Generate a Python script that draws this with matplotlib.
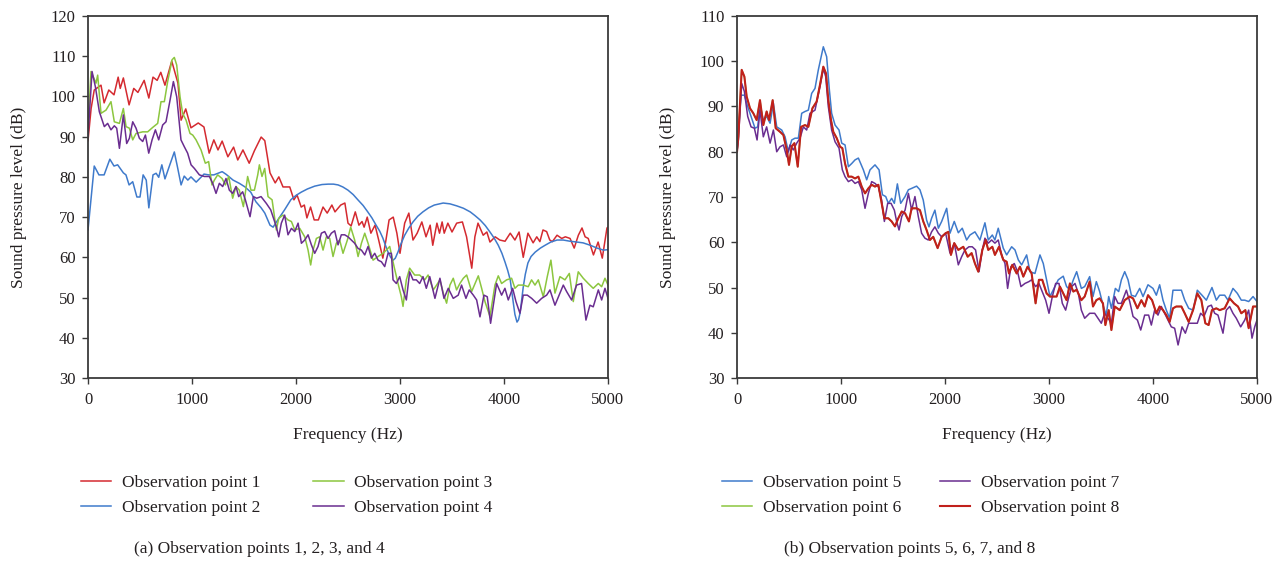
import numpy as np
import matplotlib
matplotlib.use("Agg")
import matplotlib.pyplot as plt

plt.rcParams['font.family'] = ['Liberation Serif', 'DejaVu Serif']

# ---------------- data (frequency Hz, SPL dB) ----------------
obs1 = [(0, 89), (30, 97), (60, 101.6), (125, 102.8), (155, 98.4), (200, 101.6), (250, 100.4), (290, 104.8), (310, 102), (340, 104.6),
        (395, 97.9), (440, 102), (480, 101), (540, 104), (585, 99.6), (625, 104.8), (665, 104), (700, 106), (740, 102.8), (805, 108.8),
        (865, 103.3), (895, 94.1), (940, 96.9), (990, 92.2), (1060, 93.4), (1115, 92.4), (1165, 85.9), (1210, 89.2), (1250, 86.7), (1290, 88.9),
        (1345, 85), (1400, 87.4), (1440, 84.2), (1490, 86.7), (1550, 83.4), (1600, 86.5), (1665, 89.9), (1700, 89), (1750, 81), (1800, 78.5),
        (1835, 80), (1875, 77.5), (1940, 77.5), (1980, 74.3), (2010, 75.5), (2050, 72.5), (2080, 73), (2105, 69.8), (2140, 72.5), (2175, 69.3),
        (2215, 69.3), (2260, 72.5), (2300, 71), (2345, 73), (2375, 71.3), (2430, 73), (2470, 73.5), (2500, 68.5), (2530, 67.8), (2570, 71.3),
        (2605, 68), (2635, 68.9), (2655, 67.5), (2685, 70), (2720, 66), (2760, 68), (2795, 64.3), (2835, 59.8), (2865, 64.3), (2895, 69.3),
        (2935, 70), (2970, 66), (3000, 61), (3045, 68.5), (3085, 71), (3125, 64.3), (3165, 66), (3210, 68.8), (3250, 65.1), (3290, 68),
        (3315, 63), (3355, 68.5), (3380, 66), (3405, 68.8), (3425, 66), (3460, 68.5), (3500, 66.3), (3545, 68.5), (3600, 68.8), (3640, 65.1),
        (3690, 57.3), (3720, 65.1), (3750, 68.5), (3800, 65.5), (3835, 66.3), (3865, 63.8), (3915, 65.1), (3960, 64.3), (4010, 64), (4060, 66),
        (4105, 64.3), (4145, 66.3), (4185, 60), (4230, 66), (4280, 63.6), (4315, 65.1), (4345, 63.9), (4375, 66.8), (4410, 66.4), (4440, 64.3),
        (4465, 63.9), (4510, 65.5), (4555, 64.7), (4590, 65.1), (4635, 64.7), (4675, 62.3), (4715, 65.5), (4750, 67.3), (4780, 65.1), (4810, 64.7),
        (4860, 60.6), (4905, 63.8), (4945, 59.8), (4990, 67.3), (5000, 67.5)]

obs2 = [(0, 66.8), (60, 82.7), (105, 80.5), (155, 80.5), (210, 84.4), (250, 82.7), (285, 83), (340, 81), (365, 80.5), (395, 78),
        (430, 78.8), (470, 75), (500, 75), (530, 80.5), (560, 79.2), (585, 72.3), (625, 80.5), (655, 80.9), (680, 79.9), (710, 83),
        (740, 79.5), (780, 82.5), (830, 86.2), (860, 82.5), (895, 78), (925, 80.2), (960, 79.2), (990, 80), (1040, 78.7), (1090, 80),
        (1115, 80.7), (1160, 80.5), (1210, 80.5), (1260, 81), (1290, 81.3), (1330, 80.6), (1395, 79.2), (1455, 78.4), (1510, 77.5), (1565, 76.2),
        (1615, 73.8), (1665, 72.3), (1700, 71), (1750, 68), (1780, 67.5), (1825, 69.3), (1890, 71.8), (1950, 74.3), (2000, 75.4), (2050, 76.2),
        (2110, 77.0), (2180, 77.7), (2250, 78.1), (2310, 78.2), (2360, 78.2), (2405, 78), (2450, 77.5), (2500, 76.7), (2550, 75.6), (2595, 74.3),
        (2645, 72.9), (2690, 71.3), (2730, 69.8), (2770, 68), (2805, 66.5), (2835, 64.8), (2860, 63.0), (2885, 61.3), (2910, 60.0), (2935, 59.3),
        (2955, 59.8), (2980, 61.3), (3010, 63.4), (3045, 65.5), (3085, 67.3), (3125, 68.8), (3170, 70.2), (3220, 71.3), (3275, 72.3), (3330, 73),
        (3415, 73.5), (3480, 73.3), (3545, 72.8), (3610, 72.2), (3675, 71.3), (3720, 70.4), (3770, 69.3), (3820, 67.9), (3865, 66.3), (3905, 64.8),
        (3945, 63), (3980, 61.0), (4010, 58.8), (4035, 56.8), (4060, 54.4), (4075, 51.5), (4090, 48.6), (4105, 45.8), (4125, 43.9), (4140, 44.5),
        (4155, 46.2), (4170, 49.4), (4185, 52.6), (4205, 55.8), (4230, 58.6), (4260, 60.2), (4300, 61.3), (4350, 62.3), (4395, 63), (4450, 63.8),
        (4510, 64.3), (4570, 64.3), (4635, 64), (4700, 63.8), (4760, 63.6), (4830, 63.0), (4895, 62.3), (4955, 61.8), (5000, 61.9)]

obs3 = [(0, 92), (29, 106.2), (77, 103.3), (93, 105.3), (125, 95.8), (173, 96.6), (221, 98.7), (253, 93.7), (302, 93.3), (340, 97.0),
        (366, 92.5), (398, 92.1), (430, 89.2), (462, 90.8), (526, 91.2), (574, 91.2), (622, 92.3), (670, 93.3), (702, 98.7), (734, 98.7),
        (766, 103.7), (808, 109.1), (830, 109.7), (853, 107.8), (885, 99.9), (910, 95.8), (943, 94.1), (981, 90.8), (1007, 90.4), (1039, 89.2),
        (1087, 86.7), (1128, 83.4), (1160, 83.8), (1192, 78.0), (1215, 79.2), (1247, 80.5), (1289, 79.6), (1321, 78.0), (1353, 80.1), (1391, 74.7),
        (1423, 77.6), (1455, 76.7), (1494, 72.6), (1535, 80.1), (1567, 76.7), (1600, 76.7), (1632, 80.5), (1648, 83.0), (1673, 80.1), (1699, 82.1),
        (1731, 75.1), (1770, 74.3), (1811, 66.8), (1834, 69.7), (1875, 70.5), (1923, 69.3), (1956, 68.9), (1988, 66.8), (2036, 67.2), (2084, 65.1),
        (2116, 61.8), (2141, 58.1), (2164, 61.8), (2196, 64.7), (2228, 65.1), (2260, 61.8), (2292, 65.1), (2324, 64.7), (2356, 60.2), (2388, 63.5),
        (2420, 64.3), (2452, 61.0), (2494, 64.3), (2526, 67.5), (2564, 64.3), (2597, 60.2), (2629, 63.5), (2661, 66.0), (2693, 63.5), (2741, 59.3),
        (2789, 60.2), (2837, 61.0), (2869, 61.8), (2901, 62.7), (2943, 57.7), (2981, 53.5), (3013, 50.2), (3029, 47.8), (3061, 54.4), (3093, 57.3),
        (3141, 55.6), (3189, 55.6), (3238, 54.4), (3270, 55.6), (3320, 51.9), (3352, 53.1), (3384, 54.4), (3416, 51.1), (3448, 48.6), (3480, 53.1),
        (3512, 54.8), (3544, 51.9), (3576, 53.5), (3609, 54.8), (3641, 55.6), (3689, 51.5), (3753, 55.4), (3785, 52.3), (3817, 49.0), (3865, 45.3),
        (3913, 53.1), (3945, 55.4), (3977, 53.5), (4025, 54.4), (4073, 54.8), (4105, 52.3), (4137, 53.1), (4185, 53.1), (4233, 52.7), (4265, 54.4),
        (4298, 53.1), (4330, 54.4), (4378, 50.2), (4416, 55.2), (4451, 59.3), (4490, 51.1), (4538, 55.2), (4586, 54.4), (4628, 56.0), (4666, 49.0),
        (4714, 56.4), (4762, 54.8), (4810, 53.5), (4858, 52.3), (4907, 53.5), (4939, 52.7), (4971, 54.8), (5000, 53.1)]

obs4 = [(0, 90), (39, 106.2), (71, 102.4), (109, 96.2), (157, 92.5), (189, 93.3), (221, 91.7), (253, 92.7), (276, 92.1), (302, 87.1),
        (340, 95.4), (372, 88.3), (398, 89.6), (430, 93.7), (462, 92.1), (494, 89.6), (526, 88.8), (552, 90.4), (584, 85.9), (616, 89.2),
        (648, 91.7), (680, 89.2), (718, 92.9), (750, 93.7), (789, 99.1), (821, 103.7), (853, 99.9), (878, 93.3), (894, 89.2), (926, 87.5),
        (958, 85.9), (991, 83.0), (1023, 82.1), (1071, 80.5), (1119, 80.1), (1167, 80.1), (1199, 78.4), (1231, 75.9), (1263, 78.4), (1295, 77.6),
        (1327, 79.6), (1359, 76.7), (1391, 75.9), (1423, 77.6), (1449, 75.1), (1487, 76.3), (1513, 74.3), (1558, 70.1), (1590, 75.1), (1622, 74.7),
        (1664, 75.1), (1715, 73.4), (1757, 71.8), (1789, 69.3), (1811, 67.6), (1834, 65.1), (1859, 68.5), (1891, 70.5), (1923, 65.6), (1956, 67.2),
        (1988, 66.4), (2020, 68.5), (2052, 63.5), (2084, 64.3), (2116, 65.6), (2148, 63.1), (2180, 61.0), (2212, 62.7), (2244, 66.0), (2276, 66.4),
        (2308, 64.7), (2340, 66.0), (2372, 66.6), (2404, 63.1), (2436, 65.6), (2468, 65.6), (2500, 65.1), (2532, 64.3), (2564, 63.5), (2597, 62.2),
        (2629, 61.8), (2661, 60.6), (2693, 62.7), (2725, 59.8), (2757, 61.0), (2789, 59.3), (2821, 58.9), (2853, 57.7), (2885, 61.0), (2917, 61.0),
        (2933, 54.4), (2965, 53.5), (2997, 55.2), (3029, 51.9), (3061, 49.4), (3093, 56.4), (3125, 54.4), (3157, 54.4), (3189, 53.5), (3221, 55.2),
        (3253, 52.3), (3286, 55.2), (3336, 49.8), (3384, 54.8), (3423, 49.8), (3464, 52.3), (3512, 49.8), (3560, 50.6), (3592, 53.1), (3634, 49.8),
        (3666, 51.9), (3705, 50.6), (3737, 49.4), (3769, 45.2), (3807, 50.6), (3839, 50.2), (3871, 43.6), (3929, 53.5), (3977, 50.6), (4009, 52.3),
        (4041, 49.4), (4083, 52.3), (4115, 49.0), (4153, 46.1), (4185, 50.6), (4224, 50.6), (4266, 49.8), (4314, 48.6), (4362, 49.8), (4410, 50.6),
        (4442, 51.9), (4490, 48.1), (4538, 51.1), (4570, 53.1), (4602, 51.5), (4650, 49.4), (4698, 53.1), (4746, 53.5), (4788, 44.4), (4826, 48.1),
        (4858, 47.7), (4907, 51.9), (4939, 49.4), (4971, 52.3), (5000, 49.8)]

obs5 = [(0, 80), (19, 86.3), (39, 92.5), (71, 92.5), (103, 90.0), (141, 87.4), (173, 85.2), (199, 85.5), (221, 90.3), (253, 87.0),
        (285, 87.8), (318, 86.3), (350, 90.7), (382, 85.5), (430, 84.8), (462, 83.3), (494, 80.0), (526, 82.6), (558, 83.0), (590, 83.0),
        (622, 88.5), (654, 88.9), (686, 89.2), (718, 92.9), (750, 94.0), (782, 98.1), (830, 103.2), (862, 101.0), (888, 93.7), (910, 88.5),
        (943, 85.9), (981, 84.8), (1007, 81.9), (1039, 81.5), (1071, 76.7), (1103, 77.4), (1135, 78.2), (1167, 78.6), (1215, 76.0), (1247, 73.8),
        (1279, 76.0), (1327, 77.1), (1366, 76.0), (1398, 70.5), (1430, 70.1), (1455, 68.6), (1487, 69.7), (1513, 68.6), (1542, 72.9), (1574, 68.6),
        (1616, 70.1), (1648, 71.6), (1679, 71.9), (1727, 72.4), (1759, 71.6), (1791, 69.3), (1823, 64.9), (1846, 63.4), (1871, 65.3), (1903, 67.1),
        (1936, 63.1), (1968, 64.6), (2016, 67.5), (2048, 62.0), (2089, 64.6), (2128, 62.1), (2166, 63.1), (2208, 60.5), (2240, 61.6), (2288, 62.3),
        (2336, 60.5), (2384, 64.3), (2416, 60.5), (2455, 61.6), (2480, 60.5), (2512, 63.1), (2560, 58.7), (2593, 57.2), (2641, 59.0), (2673, 58.3),
        (2705, 56.1), (2737, 55.0), (2785, 57.2), (2817, 53.5), (2865, 53.1), (2913, 57.2), (2945, 55.3), (2977, 51.7), (3009, 48.0), (3041, 49.5),
        (3089, 51.7), (3137, 52.5), (3169, 50.2), (3201, 49.5), (3234, 51.7), (3266, 53.5), (3311, 49.8), (3343, 50.2), (3391, 52.4), (3423, 48.0),
        (3455, 51.3), (3487, 49.1), (3519, 46.1), (3551, 43.9), (3574, 48.0), (3600, 45.4), (3638, 49.8), (3670, 49.1), (3696, 51.7), (3728, 53.5),
        (3760, 51.7), (3792, 48.3), (3830, 48.0), (3872, 49.8), (3904, 48.0), (3952, 50.6), (4000, 49.8), (4032, 48.3), (4064, 50.6), (4096, 47.2),
        (4128, 45.0), (4160, 43.2), (4192, 49.4), (4224, 49.4), (4273, 49.4), (4305, 47.2), (4343, 45.4), (4385, 45.0), (4426, 49.4), (4471, 48.3),
        (4513, 47.2), (4567, 50.0), (4609, 47.2), (4641, 48.3), (4689, 48.3), (4721, 47.2), (4769, 49.8), (4811, 48.7), (4849, 47.2), (4882, 47.2),
        (4920, 46.9), (4962, 48.0), (5000, 46.9)]

obs7 = [(0, 80), (13, 82.6), (45, 95.1), (71, 93.3), (103, 87.8), (135, 85.5), (167, 85.2), (193, 82.6), (221, 89.2), (253, 83.3),
        (285, 85.5), (318, 81.9), (350, 84.8), (382, 80.0), (414, 81.1), (446, 81.5), (478, 78.9), (510, 81.5), (542, 80.4), (574, 81.9),
        (606, 83.0), (638, 85.5), (670, 84.8), (702, 88.5), (750, 89.2), (798, 94.4), (830, 98.4), (853, 96.6), (878, 90.0), (910, 84.8),
        (943, 82.2), (981, 80.8), (1013, 76.0), (1039, 74.5), (1071, 73.4), (1103, 73.8), (1135, 73.0), (1167, 73.4), (1199, 71.6), (1231, 67.5),
        (1263, 70.8), (1295, 73.4), (1327, 73.0), (1359, 72.3), (1391, 69.3), (1417, 64.6), (1449, 68.6), (1481, 68.6), (1513, 67.1), (1535, 64.6),
        (1558, 62.7), (1584, 65.7), (1616, 67.1), (1648, 70.8), (1679, 67.1), (1711, 70.1), (1743, 65.7), (1775, 62.0), (1807, 60.9), (1839, 60.5),
        (1871, 62.3), (1903, 63.4), (1936, 62.0), (1968, 61.2), (2006, 62.0), (2048, 57.6), (2089, 59.8), (2128, 55.0), (2160, 56.8), (2192, 58.3),
        (2230, 59.0), (2262, 59.0), (2294, 58.3), (2327, 53.5), (2359, 58.3), (2384, 60.9), (2416, 59.8), (2448, 60.5), (2480, 59.8), (2512, 60.5),
        (2544, 57.2), (2577, 55.3), (2602, 49.8), (2634, 54.6), (2666, 55.3), (2698, 53.5), (2730, 50.2), (2769, 50.9), (2807, 51.3), (2833, 51.7),
        (2871, 50.2), (2903, 50.9), (2935, 49.1), (2968, 47.2), (3000, 44.3), (3032, 48.0), (3064, 50.9), (3096, 50.9), (3128, 46.5), (3160, 45.0),
        (3192, 48.0), (3218, 50.2), (3250, 50.9), (3282, 48.7), (3311, 45.0), (3343, 43.2), (3391, 44.3), (3439, 44.3), (3471, 43.2), (3503, 42.1),
        (3535, 44.3), (3567, 43.2), (3600, 42.1), (3632, 48.0), (3664, 46.5), (3696, 46.5), (3744, 49.4), (3776, 46.9), (3808, 43.6), (3850, 42.8),
        (3882, 40.6), (3920, 43.9), (3958, 43.9), (3984, 41.7), (4016, 45.0), (4048, 43.9), (4080, 45.8), (4112, 44.3), (4144, 42.8), (4176, 41.3),
        (4208, 41.0), (4241, 37.3), (4279, 41.3), (4311, 39.9), (4343, 42.1), (4385, 42.1), (4426, 42.1), (4458, 44.3), (4490, 43.6), (4529, 45.8),
        (4561, 46.1), (4593, 44.3), (4625, 43.9), (4673, 39.9), (4705, 45.0), (4737, 45.8), (4769, 44.3), (4801, 43.2), (4843, 41.3), (4882, 42.8),
        (4920, 45.0), (4952, 38.8), (4978, 41.3), (5000, 42.8)]

obs8 = [(0, 80), (13, 83.3), (45, 98.1), (71, 96.6), (93, 92.2), (125, 89.6), (157, 88.5), (189, 87.0), (221, 91.4), (253, 85.9),
        (285, 88.9), (308, 87.0), (343, 91.4), (372, 85.2), (414, 84.4), (446, 83.7), (478, 80.4), (500, 77.1), (526, 81.2), (552, 81.9),
        (584, 76.7), (616, 85.5), (654, 85.9), (686, 85.5), (725, 89.6), (766, 91.1), (798, 94.8), (830, 98.8), (856, 97.3), (878, 91.4),
        (904, 87.0), (926, 84.4), (959, 83.0), (991, 81.1), (1013, 80.8), (1039, 77.4), (1071, 74.5), (1103, 74.5), (1135, 74.1), (1167, 74.5),
        (1199, 72.3), (1231, 70.8), (1263, 71.9), (1295, 72.7), (1327, 72.3), (1359, 72.7), (1391, 68.6), (1417, 65.3), (1455, 65.3), (1487, 64.6),
        (1519, 63.5), (1551, 65.3), (1584, 66.8), (1616, 66.4), (1653, 64.6), (1679, 67.5), (1727, 67.5), (1759, 67.1), (1791, 64.6), (1823, 62.7),
        (1855, 60.5), (1887, 61.2), (1929, 58.7), (1968, 61.2), (2006, 62.0), (2032, 62.3), (2057, 57.2), (2089, 59.8), (2128, 58.3), (2176, 59.0),
        (2218, 56.8), (2256, 57.6), (2288, 55.3), (2320, 53.5), (2359, 58.3), (2391, 60.5), (2416, 58.3), (2455, 59.0), (2480, 57.2), (2519, 59.0),
        (2560, 56.1), (2593, 55.7), (2615, 53.1), (2647, 55.0), (2689, 53.1), (2721, 54.6), (2753, 52.4), (2794, 54.6), (2833, 53.1), (2871, 46.5),
        (2903, 51.7), (2935, 51.7), (2977, 48.7), (3009, 48.0), (3041, 48.0), (3073, 48.0), (3105, 50.2), (3137, 48.7), (3169, 47.2), (3201, 50.9),
        (3234, 49.1), (3266, 49.5), (3311, 47.2), (3343, 48.0), (3391, 51.3), (3423, 45.8), (3455, 47.2), (3487, 47.6), (3519, 46.5), (3542, 41.7),
        (3574, 45.0), (3600, 40.6), (3632, 45.8), (3680, 45.0), (3728, 47.2), (3776, 48.0), (3808, 47.6), (3850, 45.4), (3888, 47.2), (3920, 45.8),
        (3952, 48.3), (3991, 47.2), (4032, 44.3), (4064, 45.8), (4096, 45.0), (4128, 43.9), (4160, 42.4), (4192, 45.4), (4224, 45.8), (4273, 45.8),
        (4305, 44.3), (4343, 42.4), (4385, 45.0), (4426, 48.7), (4465, 47.2), (4503, 42.1), (4535, 41.7), (4567, 45.0), (4609, 45.4), (4641, 45.0),
        (4689, 45.4), (4737, 47.6), (4779, 46.5), (4817, 45.8), (4849, 44.3), (4888, 45.0), (4920, 41.0), (4962, 45.8), (5000, 45.8)]

# Observation point 6 lies underneath point 8 in the figure (not separately visible)
obs6 = list(obs8)

labels_a = ["Observation point 1", "Observation point 2", "Observation point 3", "Observation point 4"]
labels_b = ["Observation point 5", "Observation point 6", "Observation point 7", "Observation point 8"]
xticks = [0, 1000, 2000, 3000, 4000, 5000]
yticks_a = [30, 40, 50, 60, 70, 80, 90, 100, 110, 120]
yticks_b = [30, 40, 50, 60, 70, 80, 90, 100, 110]

RED = "#d42a30"
BLUE = "#3f7acb"
GREEN = "#8cc63f"
PURPLE = "#6a2d90"
RED_B = "#c1201c"
TXT = "#231f20"

W, H = 1287, 563
fig = plt.figure(figsize=(W / 100, H / 100), dpi=100)
axa = fig.add_axes([88 / W, 1 - 378 / H, 520 / W, 362 / H])
axb = fig.add_axes([737 / W, 1 - 378 / H, 520 / W, 362 / H])


def xy(series):
    f, v = zip(*series)
    return np.array(f), np.array(v)


lw = 1.1
ha = []
for s, c in [(obs1, RED), (obs2, BLUE), (obs3, GREEN), (obs4, PURPLE)]:
    f, v = xy(s)
    ha.append(axa.plot(f, v, color=c, lw=lw)[0])
hb = [None] * 4
for i, (s, c, w) in enumerate([(obs5, BLUE, lw), (obs6, GREEN, lw), (obs7, PURPLE, lw), (obs8, RED_B, 1.5)]):
    f, v = xy(s)
    hb[i] = axb.plot(f, v, color=c, lw=w)[0]

for ax, yt, ylim in [(axa, yticks_a, (30, 120)), (axb, yticks_b, (30, 110))]:
    ax.set_xlim(0, 5000)
    ax.set_ylim(*ylim)
    ax.set_xticks(xticks)
    ax.set_yticks(yt)
    ax.tick_params(direction='out', length=4, width=1, colors='#3a3a3a',
                   labelcolor=TXT, labelsize=12, top=False, right=False)
    ax.tick_params(axis='x', pad=6)
    ax.tick_params(axis='y', pad=5)
    for sp in ax.spines.values():
        sp.set_linewidth(1.3)
        sp.set_color('#3a3a3a')
    ax.set_xlabel("Frequency (Hz)", fontsize=12.5, color=TXT)
    ax.set_ylabel("Sound pressure level (dB)", fontsize=12.5, color=TXT)
    ax.xaxis.set_label_coords(0.5, -0.135)
    ax.yaxis.set_label_coords(-0.118, 0.5)

leg_kw = dict(ncol=2, frameon=False, fontsize=12.5, handlelength=1.75, handletextpad=0.6,
              labelspacing=0.52, borderpad=0, borderaxespad=0, loc='upper left')
for t in fig.legend([ha[0], ha[1], ha[2], ha[3]], labels_a, columnspacing=3.05,
                    bbox_to_anchor=(81 / W, 1 - 475 / H), **leg_kw).get_texts():
    t.set_color(TXT)
for t in fig.legend([hb[0], hb[1], hb[2], hb[3]], labels_b, columnspacing=2.25,
                    bbox_to_anchor=(722 / W, 1 - 475 / H), **leg_kw).get_texts():
    t.set_color(TXT)

fig.text(259 / W, 1 - 549 / H, "(a) Observation points 1, 2, 3, and 4", ha='center', va='center',
         fontsize=12.5, color=TXT)
fig.text(910 / W, 1 - 549 / H, "(b) Observation points 5, 6, 7, and 8", ha='center', va='center',
         fontsize=12.5, color=TXT)

fig.savefig("out.png", dpi=100)
